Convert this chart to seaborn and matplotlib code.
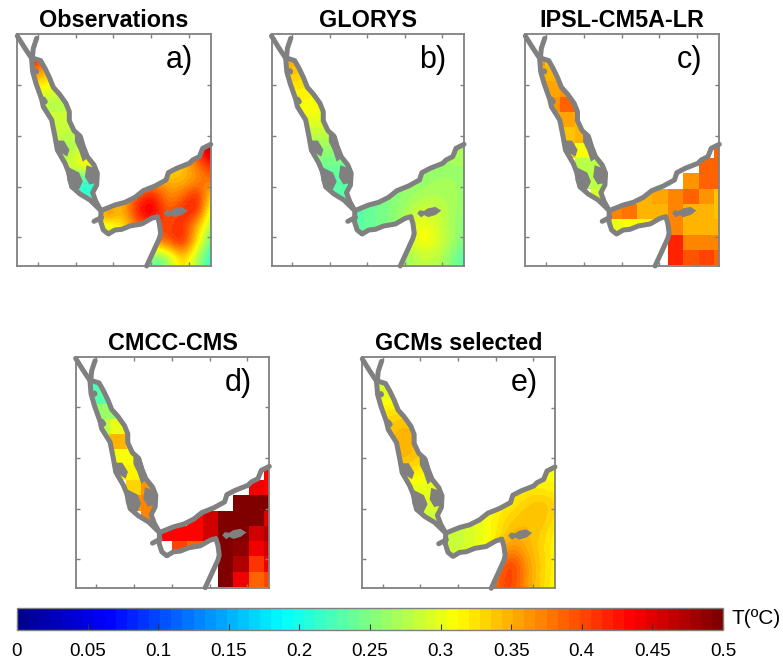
import numpy as np
import matplotlib
matplotlib.use("Agg")
import matplotlib.pyplot as plt
import seaborn as sns
from matplotlib.colors import LinearSegmentedColormap
from matplotlib.patches import Polygon

n = np.nan

# panel titles and letters
titles = ["Observations", "GLORYS", "IPSL-CM5A-LR", "CMCC-CMS", "GCMs selected"]
letters = ["a)", "b)", "c)", "d)", "e)"]

# temperature on the model grid, in hundredths of a degree (rows north to south)
obs_t = [
    [44, 44, 38, 30, 30, 30, 30, 30, 30, 30, 30, 30, 42, 49],
    [44, 44, 40, 30, 30, 30, 30, 30, 30, 30, 30, 30, 42, 49],
    [44, 44, 41, 32, 30, 30, 30, 30, 30, 30, 30, 30, 42, 49],
    [39, 38, 35, 31, 30, 30, 30, 30, 30, 30, 30, 30, 42, 49],
    [31, 31, 31, 30, 29, 30, 30, 30, 30, 30, 30, 30, 42, 49],
    [27, 27, 27, 27, 27, 28, 30, 30, 30, 30, 30, 30, 42, 49],
    [29, 29, 29, 29, 29, 28, 30, 30, 30, 30, 30, 30, 42, 49],
    [29, 29, 29, 29, 27, 27, 30, 30, 30, 30, 30, 30, 42, 49],
    [27, 27, 27, 26, 27, 30, 30, 30, 30, 30, 30, 32, 42, 49],
    [27, 27, 27, 28, 31, 34, 30, 30, 30, 30, 31, 34, 38, 42],
    [25, 25, 25, 25, 22, 20, 25, 30, 34, 35, 35, 34, 36, 39],
    [25, 25, 25, 25, 22, 19, 22, 34, 39, 44, 36, 38, 44, 30],
    [28, 28, 28, 28, 28, 28, 44, 33, 43, 46, 38, 42, 43, 26],
    [28, 28, 28, 28, 28, 28, 28, 31, 37, 41, 40, 42, 34, 25],
    [28, 28, 28, 28, 28, 28, 28, 31, 37, 38, 39, 44, 32, 22],
    [28, 28, 28, 28, 28, 28, 28, 30, 30, 22, 25, 35, 26, 20],
]
glorys_t = [
    [36, 36, 35, 32, 30, 28, 27, 27, 27, 27, 27, 27, 27, 27],
    [36, 36, 36, 32, 30, 28, 27, 27, 27, 27, 27, 27, 27, 27],
    [36, 36, 35, 32, 30, 28, 27, 27, 27, 27, 27, 27, 27, 27],
    [34, 34, 34, 32, 30, 28, 27, 27, 27, 27, 27, 27, 27, 27],
    [32, 32, 32, 32, 30, 28, 27, 27, 27, 27, 27, 27, 27, 27],
    [31, 31, 31, 31, 30, 28, 27, 27, 27, 27, 27, 27, 27, 27],
    [31, 31, 30.5, 30.5, 30, 28, 27, 27, 27, 27, 27, 27, 27, 27],
    [28, 28, 28, 28, 28, 27, 26, 26, 26, 26, 26, 26, 27, 27],
    [26, 26, 26, 26, 26, 26, 26, 26, 26, 26, 26, 26, 27, 27],
    [25, 25, 25, 25, 24, 24, 24, 25, 25, 26, 26, 26.5, 26.5, 26.5],
    [23, 23, 23, 23, 23, 23, 23, 24, 25, 26, 26, 26.5, 26.5, 26.5],
    [23, 23, 23, 23, 23, 23, 23, 24, 25, 26, 27, 27.5, 27, 26],
    [23, 23, 23, 23, 23, 23, 23, 24.5, 25, 27, 29, 28.5, 27, 25.5],
    [23, 23, 23, 23, 23, 23, 23, 24, 25, 28, 31.5, 29, 27, 24.5],
    [23, 23, 23, 23, 23, 23, 24, 25, 26, 28, 32, 30, 27, 24],
    [23, 23, 23, 23, 23, 23, 24, 25, 26, 26, 28, 28, 25, 22],
]
ipsl_t = [
    [n, n, n, n, n, n, n, n, n, n, n, n, n, n],
    [n, n, n, n, n, n, n, n, n, n, n, n, n, n],
    [n, 36.5, 34, n, n, n, n, n, n, n, n, n, n, n],
    [n, 35, 35, n, n, n, n, n, n, n, n, n, n, n],
    [n, n, 35.5, 36.5, n, n, n, n, n, n, n, n, n, n],
    [n, n, 36.5, 38.5, n, n, n, n, n, n, n, n, n, n],
    [n, n, 35.5, 35.5, 35, n, n, n, n, n, n, n, n, n],
    [n, n, n, 34, 35, n, n, n, n, n, n, n, n, n],
    [n, n, n, 34, 31, 30, n, n, n, n, n, n, n, 38.5],
    [n, n, n, n, 28, 28, n, n, n, n, n, n, 38.5, 38.5],
    [n, n, n, n, 28, 28, n, n, n, n, n, 36, 38.5, 38.5],
    [n, n, n, n, n, 29, 29, n, 34.5, 35.5, 37, 39, 36.5, 34],
    [n, n, n, n, n, 29, 37, 37.5, 35, 35, 37, 35, 34.5, 34],
    [n, n, n, n, n, n, 30, 31, 32, 32, 37, 35, 35, 35],
    [n, n, n, n, n, n, n, n, n, n, 41.5, 37, 37, 37],
    [n, n, n, n, n, n, n, n, n, n, 41.5, 39.5, 40.5, 39],
]
cmcc_t = [
    [n, n, n, n, n, n, n, n, n, n, n, n, n, n],
    [n, n, n, n, n, n, n, n, n, n, n, n, n, n],
    [n, 22, 22, n, n, n, n, n, n, n, n, n, n, n],
    [n, 23, 23, n, n, n, n, n, n, n, n, n, n, n],
    [n, n, 26, 26, n, n, n, n, n, n, n, n, n, n],
    [n, n, 28, 30, n, n, n, n, n, n, n, n, n, n],
    [n, n, 33, 35, 33, n, n, n, n, n, n, n, n, n],
    [n, n, n, 31, 31, n, n, n, n, n, n, n, n, n],
    [n, n, n, 32, 32, 35, n, n, n, n, n, n, n, 43],
    [n, n, n, n, 33, 36, n, n, n, n, n, n, 44, 43],
    [n, n, n, n, 36, 37, n, n, n, n, n, 50, 50, 50],
    [n, n, n, n, n, 37, 37, n, 43, 46, 50, 50, 50, 45],
    [n, n, n, n, n, 37, 43, 43, 43, 46, 50, 50, 46, 47],
    [n, n, n, n, n, n, n, 40, 38.5, 43, 50, 49, 44, 46],
    [n, n, n, n, n, n, n, n, n, n, 50, 47, 41, 44],
    [n, n, n, n, n, n, n, n, n, n, 50, 44, 38.5, 40],
]
gcm_t = [
    [28, 28, 28, 30, 30, 30, 30, 30, 30, 30, 30, 30, 31, 31],
    [28, 28, 28, 30, 30, 30, 30, 30, 30, 30, 30, 30, 31, 31],
    [28, 28, 29, 30, 30, 30, 30, 30, 30, 30, 30, 30, 31, 31],
    [30, 30, 30, 31, 30, 30, 30, 30, 30, 30, 30, 30, 31, 31],
    [32, 32, 32, 33, 32, 30, 30, 30, 30, 30, 30, 30, 31, 31],
    [34, 34, 34, 35, 34, 32, 30, 30, 30, 30, 30, 30, 31, 31],
    [34, 34, 34, 35, 34, 32, 30, 30, 30, 30, 30, 30, 31, 31],
    [34, 34, 34, 35, 34, 32, 30, 30, 30, 30, 30, 30, 31, 31],
    [33, 33, 33, 33, 31, 31, 30, 30, 30, 30, 30, 30, 31, 31],
    [30, 30, 30, 30, 30, 30, 30, 30, 30, 30, 31, 32, 32, 31],
    [30, 30, 30, 30, 30, 30, 29, 29, 30, 31, 32, 33.5, 34.5, 33],
    [28, 28, 28, 28, 28, 28, 28, 29, 30, 32, 33.5, 34.5, 34.5, 32],
    [28, 28, 28, 28, 28, 28, 28, 29, 30, 31.5, 35, 34.5, 33.5, 31],
    [28, 28, 28, 28, 28, 28, 28, 29, 30, 33, 37.5, 35, 33, 31],
    [28, 28, 28, 28, 28, 28, 29, 30, 33, 37, 42, 36, 33.5, 31],
    [28, 28, 28, 28, 28, 28, 29, 30, 35, 39, 41, 36, 33, 31],
]
panel_t = [obs_t, glorys_t, ipsl_t, cmcc_t, gcm_t]
smooth_panel = [True, True, False, False, True]

east_x = [100, 122, 135, 148, 160, 178, 198, 208, 208, 222, 240, 250, 262, 282, 292, 290, 278, 288, 303]
east_y = [175, 182, 205, 232, 262, 282, 310, 335, 362, 392, 408, 440, 470, 495, 520, 555, 578, 605, 632]
north_x = [345, 375, 405, 430, 465, 498, 505, 530, 568, 578, 598, 608, 632]
north_y = [615, 607, 592, 572, 558, 540, 518, 505, 490, 480, 470, 445, 433]
south_x = [440, 462, 478, 482, 478, 472, 455, 425, 390, 365, 345, 325, 310, 302, 303]
south_y = [798, 750, 715, 700, 670, 650, 655, 672, 678, 688, 690, 702, 690, 665, 632]
west_x = [270, 240, 215, 205, 195, 172, 165, 155, 130, 125, 108, 98, 95, 100]
west_y = [600, 582, 560, 515, 490, 450, 410, 360, 320, 298, 250, 215, 178, 175]
suez_x = [52, 75, 97]
suez_y = [108, 145, 178]
aqaba_x = [110, 100, 97]
aqaba_y = [115, 145, 175]
cape_x = [282, 305]
cape_y = [664, 652]
reef_x = [130, 135, n, 108, 109]
reef_y = [298, 305, n, 213, 215]
# shoals and islands, drawn filled
blob_x = [[165, 190, 205, 200, 175], [205, 235, 245, 235, 215, 205],
          [228, 245, 262, 250, 240, 228], [262, 290, 292, 270, 258],
          [495, 503, 512, 525, 545, 558, 545, 525, 512, 500]]
blob_y = [[425, 425, 450, 465, 450], [505, 520, 545, 565, 565, 540],
          [400, 410, 470, 480, 450, 425], [500, 510, 545, 550, 530],
          [640, 648, 642, 648, 642, 632, 624, 628, 636, 634]]

# tick places on the frame, map units
lon_ticks = [113, 227, 340, 453, 566]
lat_ticks = [255, 407, 560, 711]

cbar_ticks = [0, 0.05, 0.1, 0.15, 0.2, 0.25, 0.3, 0.35, 0.4, 0.45, 0.5]
cbar_labels = ["0", "0.05", "0.1", "0.15", "0.2", "0.25", "0.3", "0.35", "0.4", "0.45", "0.5"]

# panel boxes in pixels: left, right, top, bottom
boxes = [(17.3, 210.7, 34.3, 266), (271.5, 464, 34.3, 266), (525.3, 719.3, 34.3, 266),
         (75.7, 269.3, 356.7, 587.7), (362.3, 555, 357.3, 588.3)]
W, H = 783, 659
GRAY = "#808080"

plt.rcParams["font.family"] = ["Liberation Sans", "DejaVu Sans"]
# jet as the figure has it, in 64 steps
jet64 = LinearSegmentedColormap.from_list(
    "jet64", [(0, (0, 0, 0.5625)), (0.125, (0, 0, 1)), (0.375, (0, 1, 1)),
              (0.625, (1, 1, 0)), (0.875, (1, 0, 0)), (1, (0.5, 0, 0))], N=64)


# map units to heatmap cell units
def cell_x(v):
    return (np.array(v, dtype=float) - 18) / 46


def cell_y(v):
    return (np.array(v, dtype=float) - 60) / 46


fig = plt.figure(figsize=(W / 100, H / 100), dpi=100)

sea_x = east_x + north_x + [632] + south_x + west_x
sea_y = east_y + north_y + [798] + south_y + west_y
coast_x = east_x + north_x
coast_y = east_y + north_y

for i, box in enumerate(boxes):
    ax = fig.add_axes([box[0] / W, 1 - box[3] / H, (box[1] - box[0]) / W, (box[3] - box[2]) / H])
    values = np.array(panel_t[i], dtype=float) / 100
    sns.heatmap(values, mask=np.isnan(values), cmap=jet64, vmin=0, vmax=0.5, cbar=False,
                xticklabels=False, yticklabels=False, ax=ax)
    mesh = ax.collections[0]
    sea = Polygon(np.column_stack([cell_x(sea_x), cell_y(sea_y)]), transform=ax.transData,
                  facecolor="none", edgecolor="none")
    ax.add_patch(sea)
    if smooth_panel[i]:
        # these fields are smooth in the figure
        mesh.set_visible(False)
        img = ax.imshow(values, cmap=jet64, vmin=0, vmax=0.5, interpolation="bicubic",
                        interpolation_stage="data", extent=(0, 14, 16, 0), aspect="auto")
        img.set_clip_path(sea)
    else:
        mesh.set_clip_path(sea)

    # coast
    line = dict(color=GRAY, lw=3.6, solid_capstyle="round", solid_joinstyle="round", clip_on=False)
    ax.plot(cell_x(coast_x), cell_y(coast_y), **line)
    ax.plot(cell_x(south_x + west_x), cell_y(south_y + west_y), **line)
    ax.plot(cell_x(suez_x), cell_y(suez_y), **line)
    ax.plot(cell_x(aqaba_x), cell_y(aqaba_y), **line)
    ax.plot(cell_x(cape_x), cell_y(cape_y), **line)
    ax.plot(cell_x(reef_x), cell_y(reef_y), color=GRAY, lw=4, solid_capstyle="round")
    for bx, by in zip(blob_x, blob_y):
        ax.fill(cell_x(bx), cell_y(by), color=GRAY, lw=1.5)

    ax.set_xlim(cell_x(52), cell_x(632))
    ax.set_ylim(cell_y(798), cell_y(103))
    ax.set_xticks(cell_x(lon_ticks))
    ax.set_yticks(cell_y(lat_ticks))
    ax.set_xticklabels([])
    ax.set_yticklabels([])
    ax.tick_params(direction="in", top=True, right=True, bottom=True, left=True,
                   length=3, width=1, color=GRAY)
    for s in ax.spines.values():
        s.set_visible(True)
        s.set_color(GRAY)
        s.set_linewidth(1.3)

    ax.set_title(titles[i], fontsize=16.8, fontweight="bold", pad=5)
    ax.text(0.91, 0.853, letters[i], transform=ax.transAxes, fontsize=22, ha="right", va="baseline")

# colour bar
cax = fig.add_axes([17 / W, 1 - 630 / H, 706 / W, 22 / H])
sm = plt.cm.ScalarMappable(cmap=jet64, norm=plt.Normalize(0, 0.5))
cb = fig.colorbar(sm, cax=cax, orientation="horizontal", ticks=cbar_ticks)
cb.ax.set_xticklabels(cbar_labels)
cb.ax.tick_params(direction="in", length=4, width=0.8, color="#333333", labelsize=13.5, pad=9)
cb.outline.set_edgecolor(GRAY)
cb.outline.set_linewidth(1)
fig.text(731 / W, 1 - 618 / H, "T(ºC)", fontsize=15, va="center", ha="left")

fig.savefig("out.png", dpi=100)
